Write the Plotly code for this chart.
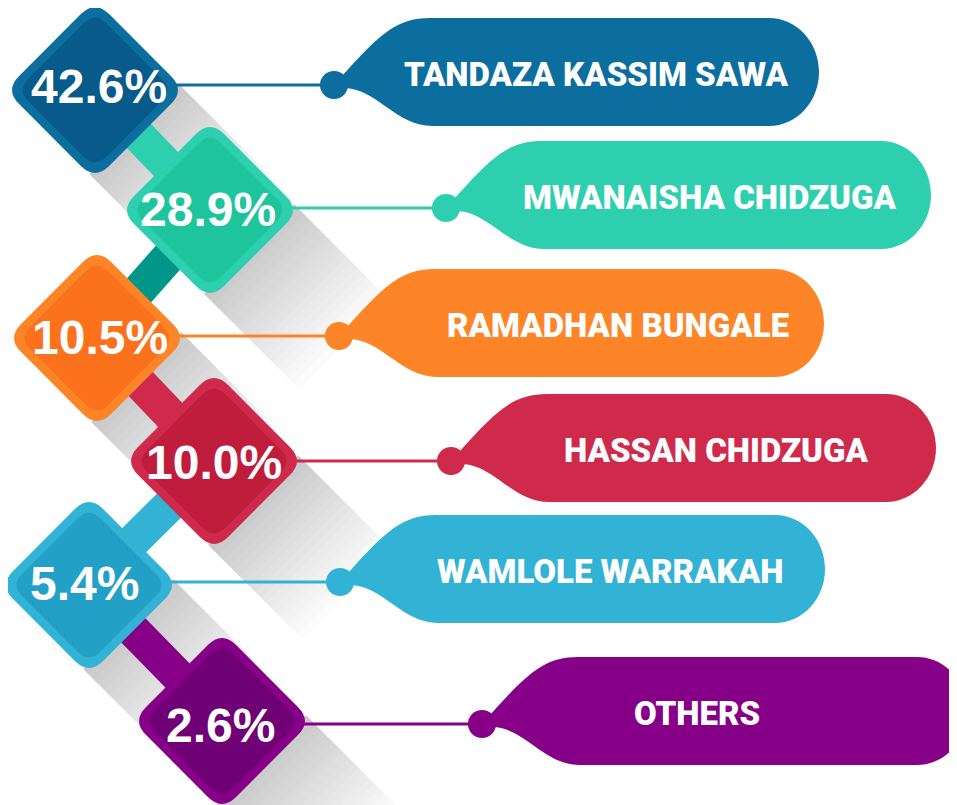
import plotly.graph_objects as go

# data
names = ["TANDAZA KASSIM SAWA", "MWANAISHA CHIDZUGA", "RAMADHAN BUNGALE",
         "HASSAN CHIDZUGA", "WAMLOLE WARRAKAH", "OTHERS"]
shares = [42.6, 28.9, 10.5, 10.0, 5.4, 2.6]

# style / layout (page pixels)
outer = ['#0b6e9e', '#2dcfae', '#fd8427', '#cf2a4b', '#32b2d4', '#850087']
inner = ['#075a8a', '#1ec49b', '#fc711c', '#c01c3c', '#23a0c8', '#6f0075']
bar_col = ['#2dcfae', '#00968a', '#cf2a4b', '#32b2d4', '#850087']
cx = [95, 210, 97, 214, 89, 222]
cy = [90, 210, 338, 461, 585, 721]
line_y = [85, 208, 336, 461, 582, 724]
dot_x = [334, 446, 339, 451, 340, 482]
pct_dx = [4, -2, 3, 0, -5, -2]
label_dx = [262, 263, 279, 265, 270, 215]
W, H = 957, 805
PAD = 8          # default body margin of the html page
HD = 90          # half diagonal of diamond (before rounding)
BUB_LEN = 485


def rdiamond(x, y, h, r):
    pts = [(x, y - h), (x + h, y), (x, y + h), (x - h, y)]
    t = r / (h * 2 ** 0.5)
    path = ""
    for i, c in enumerate(pts):
        p = pts[i - 1]
        n = pts[(i + 1) % 4]
        a = (c[0] + (p[0] - c[0]) * t, c[1] + (p[1] - c[1]) * t)
        b = (c[0] + (n[0] - c[0]) * t, c[1] + (n[1] - c[1]) * t)
        path += ("M" if i == 0 else "L") + f"{a[0]:.1f},{a[1]:.1f} "
        path += f"Q{c[0]},{c[1]} {b[0]:.1f},{b[1]:.1f} "
    return path + "Z"


def bubble(dx, dy):
    top, bot = dy - 67, dy + 41
    R = dx + BUB_LEN
    rx, ry = 50, (bot - top) / 2
    mid = (top + bot) / 2
    k = 0.552
    return (f"M{dx + 9},{dy - 10} "
            f"C{dx + 45},{dy - 50} {dx + 62},{top} {dx + 96},{top} "
            f"L{R - rx},{top} "
            f"C{R - rx + k * rx},{top} {R},{mid - k * ry} {R},{mid} "
            f"C{R},{mid + k * ry} {R - rx + k * rx},{bot} {R - rx},{bot} "
            f"L{dx + 98},{bot} "
            f"C{dx + 62},{bot} {dx + 42},{dy + 3} {dx + 10},{dy + 3} Z")


shapes = []

# long shadows
for i in range(len(shares)):
    x, y = cx[i], cy[i]
    n = 18
    for k in range(1, n + 1):
        L = 95 * k / n
        shapes.append(dict(
            type="path", line_width=0, fillcolor="black", opacity=0.012,
            path=f"M{x + HD - 6},{y - 6} L{x + HD - 6 + L},{y - 6 + L} "
                 f"L{x - 6 + L},{y + HD - 6 + L} L{x - 6},{y + HD - 6} Z"))

# connecting bars
for i in range(len(shares) - 1):
    x0, y0, x1, y1 = cx[i], cy[i], cx[i + 1], cy[i + 1]
    vx, vy = x1 - x0, y1 - y0
    ln = (vx ** 2 + vy ** 2) ** 0.5
    px, py = -vy / ln * 17, vx / ln * 17
    shapes.append(dict(
        type="path", line_width=0, fillcolor=bar_col[i],
        path=f"M{x0 + px},{y0 + py} L{x1 + px},{y1 + py} L{x1 - px},{y1 - py} L{x0 - px},{y0 - py} Z"))

# diamonds, leader lines, bubbles
for i in range(len(shares)):
    x, y = cx[i], cy[i]
    shapes.append(dict(type="line", x0=x + 80, y0=line_y[i], x1=dot_x[i], y1=line_y[i],
                       line=dict(color=outer[i], width=3)))
    shapes.append(dict(type="path", path=rdiamond(x, y, HD, 20),
                       fillcolor=outer[i], line_width=0))
    shapes.append(dict(type="path", path=rdiamond(x, y, HD - 12, 16),
                       fillcolor=inner[i], line_width=0))
    shapes.append(dict(type="path", path=bubble(dot_x[i], line_y[i]),
                       fillcolor=outer[i], line_width=0))
    shapes.append(dict(type="circle", x0=dot_x[i] - 14, y0=line_y[i] - 14,
                       x1=dot_x[i] + 14, y1=line_y[i] + 14,
                       fillcolor=outer[i], line_width=0))

annotations = []
for i in range(len(shares)):
    annotations.append(dict(
        x=cx[i] + pct_dx[i], y=line_y[i] + 1, text=f"<b>{shares[i]:.1f}%</b>",
        showarrow=False, xanchor="center", yanchor="middle",
        font=dict(family="Liberation Sans, Arial", size=48, color="white")))
    annotations.append(dict(
        x=dot_x[i] + label_dx[i], y=line_y[i] - 11, text=names[i],
        showarrow=False, xanchor="center", yanchor="middle",
        font=dict(family="Roboto", size=33, color="white", weight=900)))

fig = go.Figure()
fig.update_layout(
    width=W - PAD, height=H - PAD,
    margin=dict(l=0, r=0, t=0, b=0),
    paper_bgcolor="white", plot_bgcolor="white",
    xaxis=dict(range=[PAD, W], visible=False, fixedrange=True),
    yaxis=dict(range=[H, PAD], visible=False, fixedrange=True),
    shapes=shapes, annotations=annotations,
    showlegend=False,
)
fig.write_html("out.html")
